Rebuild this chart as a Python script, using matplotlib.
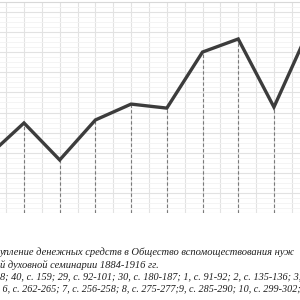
import numpy as np
import matplotlib.pyplot as plt
from matplotlib.ticker import MultipleLocator

# visible fragment of the series (roubles)
years = [1890, 1891, 1892, 1893, 1894, 1895, 1896, 1897, 1898, 1899]
values = [284, 448, 264, 463, 542, 522, 801, 866, 527, 920]

caption = [
    "упление денежных средств в Общество вспомоществования нуж",
    "й духовной семинарии 1884-1916 гг.",
    "8; 40, с. 159; 29, с. 92-101; 30, с. 180-187; 1, с. 91-92; 2, с. 135-136; 3, с.",
    " 6, с. 262-265; 7, с. 256-258; 8, с. 275-277;9, с. 285-290; 10, с. 299-302;",
]

x = np.arange(len(years))

fig = plt.figure(figsize=(3, 3), dpi=100)
ax = fig.add_axes([0, 0.29, 1, 0.7033])

ax.set_xlim(0.328, 8.73)
ax.set_ylim(0, 1050)

ax.xaxis.set_major_locator(MultipleLocator(0.5))
ax.yaxis.set_major_locator(MultipleLocator(100))
ax.yaxis.set_minor_locator(MultipleLocator(25))
ax.grid(which='major', color='#e2e2e2', lw=0.8)
ax.grid(which='minor', axis='y', color='#f2f2f2', lw=0.6)
ax.tick_params(which='both', length=0, labelbottom=False, labelleft=False)
for s in ['left', 'right', 'bottom']:
    ax.spines[s].set_visible(False)
ax.spines['top'].set_color('#d8d8d8')

ax.vlines(x, 0, values, colors='#7a7a7a', linestyles=(0, (3, 2)), lw=0.8)
ax.plot(x, values, color='#3c3c3c', lw=2.4, solid_joinstyle='miter')

ys = [252, 265, 277, 289]
sizes = [7.6, 7.6, 7.4, 7.3]
for txt, yp, fs in zip(caption, ys, sizes):
    fig.text(0, 1 - yp / 300, txt, family='Liberation Serif', style='italic',
             fontsize=fs, color='#1e1e1e', va='center', ha='left')

fig.savefig('out.png', dpi=100, facecolor='white')
